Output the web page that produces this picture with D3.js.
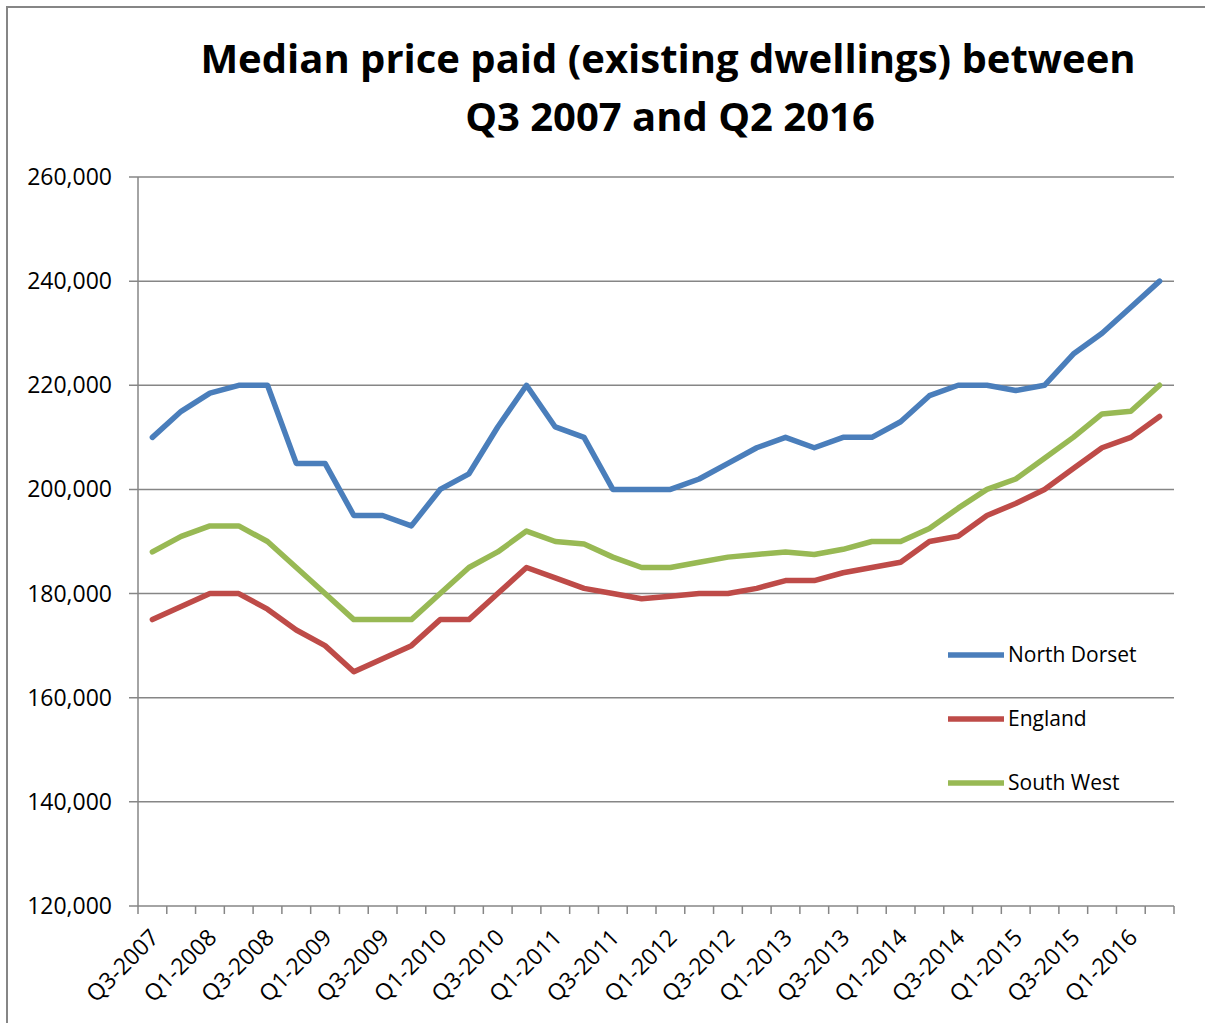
<!DOCTYPE html>
<html>
<head>
<meta charset="utf-8">
<script src="https://cdn.jsdelivr.net/npm/d3@7"></script>
<style>
  body { margin: 0; background: #fff; }
  svg text { font-family: "Open Sans", "Liberation Sans", sans-serif; fill: #000; }
</style>
</head>
<body>
<div id="chart"></div>
<script>
// quarters, Q3-2007 .. Q2-2016
const quarters = [
  "Q3-2007","Q4-2007","Q1-2008","Q2-2008","Q3-2008","Q4-2008",
  "Q1-2009","Q2-2009","Q3-2009","Q4-2009","Q1-2010","Q2-2010",
  "Q3-2010","Q4-2010","Q1-2011","Q2-2011","Q3-2011","Q4-2011",
  "Q1-2012","Q2-2012","Q3-2012","Q4-2012","Q1-2013","Q2-2013",
  "Q3-2013","Q4-2013","Q1-2014","Q2-2014","Q3-2014","Q4-2014",
  "Q1-2015","Q2-2015","Q3-2015","Q4-2015","Q1-2016","Q2-2016"
];

const northDorset = [
  210000, 215000, 218500, 220000, 220000, 205000,
  205000, 195000, 195000, 193000, 200000, 203000,
  212000, 220000, 212000, 210000, 200000, 200000,
  200000, 202000, 205000, 208000, 210000, 208000,
  210000, 210000, 213000, 218000, 220000, 220000,
  219000, 220000, 226000, 230000, 235000, 240000
];

const england = [
  175000, 177500, 180000, 180000, 177000, 173000,
  170000, 165000, 167500, 170000, 175000, 175000,
  180000, 185000, 183000, 181000, 180000, 179000,
  179500, 180000, 180000, 181000, 182500, 182500,
  184000, 185000, 186000, 190000, 191000, 195000,
  197300, 200000, 204000, 208000, 210000, 214000
];

const southWest = [
  188000, 191000, 193000, 193000, 190000, 185000,
  180000, 175000, 175000, 175000, 180000, 185000,
  188000, 192000, 190000, 189500, 187000, 185000,
  185000, 186000, 187000, 187500, 188000, 187500,
  188500, 190000, 190000, 192500, 196400, 200000,
  202000, 206000, 210000, 214500, 215000, 220000
];

const yTicks = [120000, 140000, 160000, 180000, 200000, 220000, 240000, 260000];

const series = [
  { name: "North Dorset", values: northDorset, color: "#4a7ebb" },
  { name: "England",      values: england,     color: "#be4b48" },
  { name: "South West",   values: southWest,   color: "#98b954" }
];

const width = 1205, height = 1023;
const plot = { left: 138, right: 1174, top: 177, bottom: 906 };

const svg = d3.select("#chart").append("svg")
  .attr("width", width)
  .attr("height", height);

// outer frame
svg.append("rect")
  .attr("x", 7).attr("y", 7)
  .attr("width", width).attr("height", height)
  .attr("fill", "none")
  .attr("stroke", "#868686")
  .attr("stroke-width", 2);

// title
const title = svg.append("text")
  .attr("text-anchor", "middle")
  .attr("font-weight", "bold")
  .attr("font-size", 40);
title.append("tspan").attr("x", 668).attr("y", 73)
  .text("Median price paid (existing dwellings) between");
title.append("tspan").attr("x", 670).attr("y", 131)
  .text("Q3 2007 and Q2 2016");

const x = d3.scaleBand()
  .domain(quarters)
  .range([plot.left, plot.right]);

const y = d3.scaleLinear()
  .domain([120000, 260000])
  .range([plot.bottom, plot.top]);

const cx = d => x(d) + x.bandwidth() / 2;

// gridlines
svg.append("g")
  .selectAll("line")
  .data(yTicks)
  .join("line")
  .attr("x1", plot.left - 9)
  .attr("x2", plot.right)
  .attr("y1", d => y(d))
  .attr("y2", d => y(d))
  .attr("stroke", "#868686")
  .attr("stroke-width", 1.5);

// y labels
svg.append("g")
  .selectAll("text")
  .data(yTicks)
  .join("text")
  .attr("x", 112)
  .attr("y", d => y(d))
  .attr("dy", "0.35em")
  .attr("text-anchor", "end")
  .attr("font-size", 23)
  .text(d => d3.format(",")(d));

// y axis line
svg.append("line")
  .attr("x1", plot.left).attr("x2", plot.left)
  .attr("y1", plot.top).attr("y2", plot.bottom)
  .attr("stroke", "#868686")
  .attr("stroke-width", 1.5);

// x axis ticks on band edges
const edges = quarters.map(q => x(q)).concat([plot.right]);
svg.append("g")
  .selectAll("line")
  .data(edges)
  .join("line")
  .attr("x1", d => d).attr("x2", d => d)
  .attr("y1", plot.bottom).attr("y2", plot.bottom + 8)
  .attr("stroke", "#868686")
  .attr("stroke-width", 1.5);

// x labels, every second quarter
svg.append("g")
  .selectAll("text")
  .data(quarters.filter((q, i) => i % 2 === 0))
  .join("text")
  .attr("text-anchor", "end")
  .attr("font-size", 23)
  .attr("transform", d => `translate(${cx(d) + 8},${plot.bottom + 33}) rotate(-45)`)
  .text(d => d);

// lines
const line = d3.line()
  .x((v, i) => cx(quarters[i]))
  .y(v => y(v));

svg.append("g")
  .selectAll("path")
  .data(series)
  .join("path")
  .attr("d", s => line(s.values))
  .attr("fill", "none")
  .attr("stroke", s => s.color)
  .attr("stroke-width", 5.5)
  .attr("stroke-linejoin", "round")
  .attr("stroke-linecap", "round");

// legend
const legend = svg.append("g")
  .selectAll("g")
  .data(series)
  .join("g")
  .attr("transform", (s, i) => `translate(948,${655 + i * 64})`);
legend.append("line")
  .attr("x1", 0).attr("x2", 56)
  .attr("stroke", s => s.color)
  .attr("stroke-width", 5.5);
legend.append("text")
  .attr("x", 60)
  .attr("dy", "0.35em")
  .attr("font-size", 21)
  .text(s => s.name);
</script>
</body>
</html>
